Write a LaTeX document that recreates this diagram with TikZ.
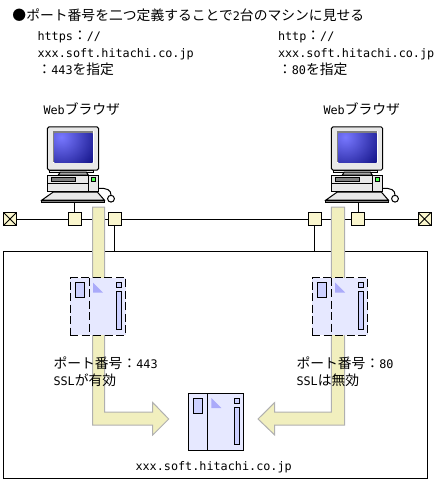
\documentclass[tikz,border=0pt]{standalone}
\usepackage{fontspec}
\setmainfont{Noto Sans CJK JP}
\setmonofont{DejaVu Sans Mono}
\usetikzlibrary{arrows.meta,shapes,positioning}
\definecolor{pipeyel}{RGB}{241,239,190}
\definecolor{pipeedge}{RGB}{176,176,176}
\definecolor{hubyel}{RGB}{250,246,205}
\definecolor{srvblue}{RGB}{230,232,255}
\definecolor{srvmid}{RGB}{204,208,255}
\definecolor{srvtri}{RGB}{170,170,250}
\definecolor{pcgrey}{RGB}{232,232,232}
\newcommand{\hw}[1]{{\ttfamily\fontsize{11.8}{17}\selectfont #1}}
\tikzset{
  pics/machine/.style={code={
    \node[srvbody,#1] (-body) at (27.75,28.75) {};
    \draw[#1] (19,0) -- (19,57.5);
    \draw[srvpart] (5,5) rectangle (14.5,20);
    \fill[srvtri] (23,5) -- (23,15) -- (33,15) -- cycle;
    \draw[srvpart] (46,5) rectangle (51.5,10);
    \draw[srvpart] (46,14) rectangle (51.5,51.5);
  }},
  pics/browser/.style={code={
    % monitor
    \draw[fill=pcgrey,rounded corners=1.5pt] (0,0) rectangle (51.4,43);
    \fill[white] (5.4,4) rectangle (46.4,36);
    \fill[gray] (5.4,4) rectangle (45.4,35.3);
    \begin{scope}
      \clip (7,6.5) rectangle (45.4,35.3);
      \shade[inner color={rgb,255:red,120;green,120;blue,255},outer color={rgb,255:red,10;green,10;blue,125}] (14,10) circle (44);
    \end{scope}
    \draw[fill=pcgrey] (2,43) rectangle (46,45);
    \draw[fill=gray!70] (13,45) -- (11,48) -- (41,48) -- (39,45) -- cycle;
    % body
    \draw[fill=pcgrey] (0,48) rectangle (51.4,64.7);
    \draw (0,56.3) -- (41,56.3) (41,48) -- (41,64.7);
    \draw[fill=gray] (4.4,50.7) rectangle (27.7,54.7);
    \draw[fill=green!70!white] (43.7,50.7) rectangle (47.7,54.7);
    \draw[line width=1.2pt] (0,64.2) -- (51.4,64.2);
    % desk and mouse
    \draw[fill=pcgrey] (6,65) -- (-5.3,73) -- (57,73) -- (50,65) -- cycle;
    \draw[fill=gray] (-5.6,73) rectangle (57,75.6);
    \draw (51,61.3) .. controls (60,61) and (63.7,63) .. (63.7,68);
    \draw (63.7,71.7) circle (3.4);
    \coordinate (-deck) at (20,75.6);
  }}
}

\begin{document}
\begin{tikzpicture}[x=1pt,y=-1pt,line width=1pt,
  lbl/.style={anchor=west,inner sep=0pt,align=left,font=\fontsize{13.8}{17}\selectfont},
  hub/.style={rectangle,draw,fill=hubyel,minimum size=13pt,inner sep=0pt},
  term/.style={rectangle,draw,fill=hubyel,minimum size=13pt,inner sep=0pt,
               path picture={\draw (path picture bounding box.north west) -- (path picture bounding box.south east)
                 (path picture bounding box.north east) -- (path picture bounding box.south west);}},
  site/.style={rectangle,draw,minimum width=424pt,minimum height=227pt,inner sep=0pt},
  srvbody/.style={rectangle,draw,fill=srvblue,minimum width=55.5pt,minimum height=57.5pt,inner sep=0pt},
  srvpart/.style={draw,fill=srvmid},
  vhost/.style={dash pattern=on 8pt off 3.5pt},
  pipe/.style={draw=pipeedge,fill=pipeyel,line join=miter}]
\useasboundingbox (0,0) rectangle (443,481);

\node[site] (lan) at (215.5,364.5) {};
\node[term] (termL) at (10,219) {};
\node[term] (termR) at (424.5,219) {};
\draw (termL) -- (termR);

% browsers
\pic (pcA) at (47.3,127) {browser};
\pic (pcB) at (331.3,127) {browser};
\node[hub] (hubA) at (74.5,219) {};
\node[hub] (hubB) at (114.5,219) {};
\node[hub] (hubC) at (314.5,219) {};
\node[hub] (hubD) at (358,219) {};
\draw (hubA) -- (hubA |- pcA-deck);
\draw (hubD) -- (hubD |- pcB-deck);
\draw (hubB) -- (hubB |- lan.north);
\draw (hubC) -- (hubC |- lan.north);

% fat arrows
\coordinate (pipeA) at (92.5,207);
\coordinate (pipeB) at (344.7,207);
\draw[pipe] (pipeA) -- ++(12,0) -- ++(0,205) -- ++(48.2,0) -- ++(0,-9.5) -- ++(16,16.5)
  -- ++(-16,16) -- ++(0,-10) -- ++(-60.2,0) -- cycle;
\draw[pipe] (pipeB) -- ++(-13.4,0) -- ++(0,205) -- ++(-56.6,0) -- ++(0,-9.5) -- ++(-16.7,16.5)
  -- ++(16.7,16) -- ++(0,-10) -- ++(70,0) -- cycle;

% servers
\pic (srvA) at (70,277.5) {machine=vhost};
\pic (srvB) at (312,277.5) {machine=vhost};
\pic (srvC) at (188.3,393) {machine=solid};

\node[lbl] (title) at (12,15) {●ポート番号を二つ定義することで\hw{2}台のマシンに見せる};
\node[lbl] (urlA) at (37,53) {\hw{https}：\hw{//}\\\hw{xxx.soft.hitachi.co.jp}\\：\hw{443}を指定};
\node[lbl] (urlB) at (277.5,53) {\hw{http}：\hw{//}\\\hw{xxx.soft.hitachi.co.jp}\\：\hw{80}を指定};
\node[lbl] (webA) at (43,109) {\hw{Web}ブラウザ};
\node[lbl] (webB) at (323,109) {\hw{Web}ブラウザ};
\node[lbl] (noteA) at (53,371.5) {ポート番号：\hw{443}\\\hw{SSL}が有効};
\node[lbl] (noteB) at (296,371.5) {ポート番号：\hw{80}\\\hw{SSL}は無効};
\node[lbl] (host) at (135,467.5) {\hw{xxx.soft.hitachi.co.jp}};
\end{tikzpicture}
\end{document}
